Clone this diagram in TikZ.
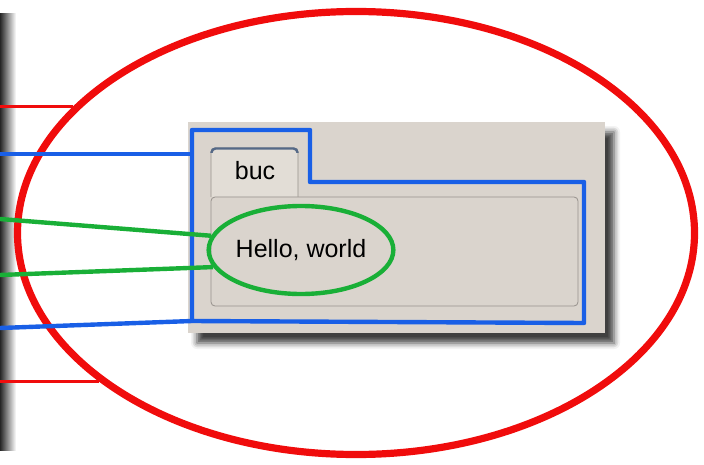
\documentclass[tikz,border=0pt]{standalone}
\usepackage{fontspec}
\setmainfont{Liberation Sans}
\usetikzlibrary{shapes.geometric, shadows.blur}

\definecolor{redline}{RGB}{240,12,12}
\definecolor{blueline}{RGB}{25,95,230}
\definecolor{greenline}{RGB}{25,175,55}
\definecolor{panel}{RGB}{218,212,205}
\definecolor{tabfill}{RGB}{226,221,214}
\definecolor{tabtop}{RGB}{85,105,135}
\definecolor{framegray}{RGB}{150,145,140}

\begin{document}
\begin{tikzpicture}[
  x = 0.5pt, y = -0.5pt,
  red line/.style   = {draw = redline, line width = 1.6pt},
  blue line/.style  = {draw = blueline, line width = 2.2pt},
  green line/.style = {draw = greenline, line width = 2.2pt},
  every node/.style = {inner sep = 0pt},
  ]
  \useasboundingbox (0,0) rectangle (704,464);
  % shadow of the window on the left
  \shade[left color = black!85, right color = white] (0,14) rectangle (16,450);

  \node[ellipse, draw = redline, line width = 3.6pt,
        minimum width = 338.5pt, minimum height = 221.5pt] (ui) at (356,233) {};

  % the window
  \node[fill = panel, minimum width = 208.5pt, minimum height = 105.5pt,
        blur shadow = {shadow xshift = 4.5pt, shadow yshift = -5pt,
                       shadow opacity = 75, shadow blur radius = 3pt}] (win) at (396.5,227.5) {};
  \draw[framegray, fill = tabfill, rounded corners = 2pt]
    (211,197) -- (211,148) -- (298,148) -- (298,197);
  \draw[tabtop, line width = 1.2pt, rounded corners = 2pt]
    (211.5,153) -- (211.5,148.5) -- (297.5,148.5) -- (297.5,153);
  \node (tab) at (255,171) {\fontsize{12.5}{15}\selectfont buc};
  \node[draw = framegray, fill = panel, rounded corners = 2pt,
        minimum width = 183.5pt, minimum height = 54.5pt] (frame) at (394.5,251.5) {};
  \node[ellipse, draw = greenline, line width = 2.2pt,
        minimum width = 88pt, minimum height = 44pt] (hello) at (301,250)
        {\fontsize{12.5}{15}\selectfont Hello, world};

  % outline of the tab widget
  \draw[blue line, line join = round]
    (192,130) coordinate (b1) -- (310,130) -- (310,182) -- (584,182)
    -- (584,323) -- (192,321) coordinate (b6) -- cycle;

  % connectors
  \coordinate (bl1) at (0,154);
  \coordinate (bl2) at (0,328);
  \coordinate (gl1) at (0,219);
  \coordinate (gl2) at (0,275);
  \draw[red line] (ui.156 -| 0,0) -- (ui.156);
  \draw[red line] (ui.210 -| 0,0) -- (ui.210);
  \draw[blue line] (bl1) -- (bl1 -| b1);
  \draw[blue line] (bl2) -- (b6);
  \draw[green line] (gl1) -- (hello.171);
  \draw[green line] (gl2) -- (hello.191);
\end{tikzpicture}
\end{document}
